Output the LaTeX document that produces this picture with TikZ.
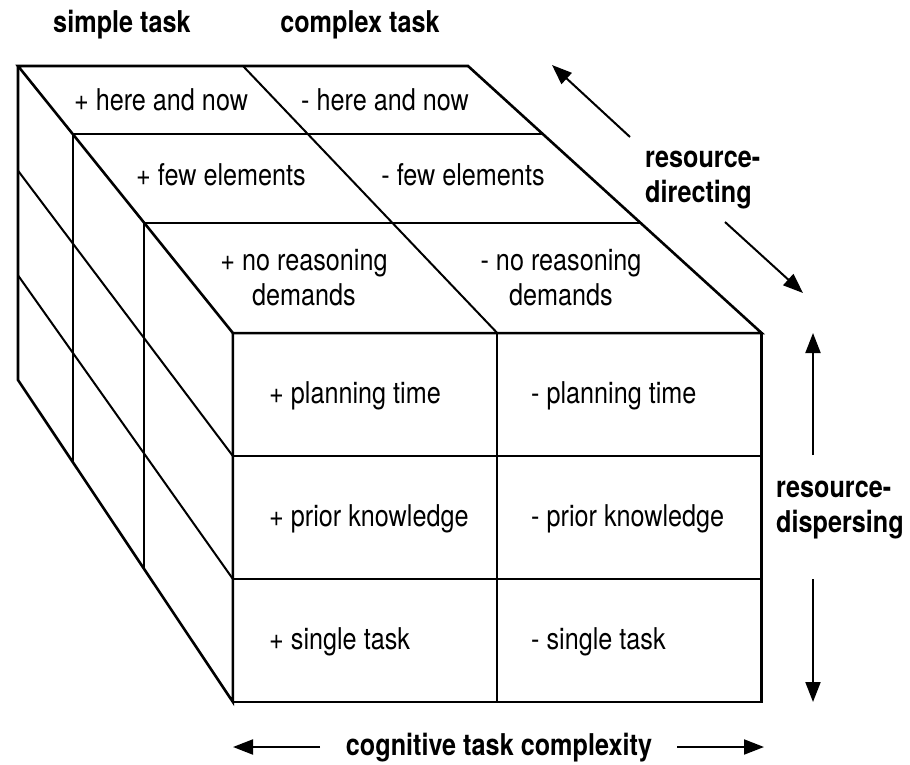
\documentclass[tikz,border=0pt]{standalone}
\usepackage{fontspec}
\setmainfont{TeX Gyre Heros}[FakeStretch=0.84]
\usetikzlibrary{calc,arrows.meta}
\begin{document}
\begin{tikzpicture}[x=1pt,y=-1pt,
  outer/.style={line width=2.6pt,line join=miter},
  inner/.style={line width=2pt},
  lbl/.style={font=\fontsize{30}{35}\selectfont,inner sep=0pt,anchor=base},
  lblw/.style={lbl,anchor=base west},
  head/.style={font=\fontsize{30}{35}\selectfont\bfseries,inner sep=0pt,anchor=base},
  headw/.style={head,anchor=base west,align=left},
  axis/.style={line width=2pt,-{Triangle[length=20pt,width=15pt]}}]
\useasboundingbox (0,0) rectangle (910,765);

% vanishing point of the block and corners of its rear face
\coordinate (V) at (-1210,-1460);
\coordinate (b-tl) at (18,66);
\coordinate (b-tm) at (243,66);
\coordinate (b-tr) at (468,66);
\coordinate (b-bl) at (18,380);
\coordinate (b-bm) at (243,380);
\coordinate (b-br) at (468,380);
\coordinate (b-l1) at (18,170.67);
\coordinate (b-l2) at (18,275.33);
\coordinate (b-r1) at (468,170.67);
\coordinate (b-r2) at (468,275.33);

% the three slices, each one a scaled copy of the rear face
\foreach \n/\s in {1/1.0446,2/1.1029,3/1.175}{
  \foreach \p in {tl,tm,tr,bl,bm,br,l1,l2,r1,r2}{
    \coordinate (l\n-\p) at ($(V)!\s!(b-\p)$);
  }
}

% inner lines
\draw[inner] (l1-tl) -- (l1-tr);
\draw[inner] (l2-tl) -- (l2-tr);
\draw[inner] (b-tm) -- (l3-tm);
\draw[inner] (l1-tl) -- (l1-bl);
\draw[inner] (l2-tl) -- (l2-bl);
\draw[inner] (b-l1) -- (l3-l1);
\draw[inner] (b-l2) -- (l3-l2);
\draw[inner] (l3-tm) -- (l3-bm);
\draw[inner] (l3-l1) -- (l3-r1);
\draw[inner] (l3-l2) -- (l3-r2);

% outline of the block
\draw[outer] (b-tl) -- (b-tr) -- (l3-tr) -- (l3-tl) -- cycle;
\draw[outer] (b-tl) -- (b-bl) -- (l3-bl) -- (l3-tl);
\draw[outer] (l3-tl) rectangle (l3-br);

% column heads
\node[head] (simple) at (122,33) {simple task};
\node[head] (complex) at (360,33) {complex task};

% top face
\node[lbl] (hnP) at (161,110.5) {+ here and now};
\node[lbl] (hnM) at (385,110.5) {- here and now};
\node[lbl] (feP) at (221,185.5) {+ few elements};
\node[lbl] (feM) at (463,185.5) {- few elements};
\node[lbl,align=center,anchor=center] (nrP) at (304,278) {+ no reasoning\\demands};
\node[lbl,align=center,anchor=center] (nrM) at (561,278) {- no reasoning\\demands};

% front face
\node[lblw] (ptP) at (269,403) {+ planning time};
\node[lblw] (ptM) at (531,403) {- planning time};
\node[lblw] (pkP) at (269,526) {+ prior knowledge};
\node[lblw] (pkM) at (531,526) {- prior knowledge};
\node[lblw] (stP) at (269,649) {+ single task};
\node[lblw] (stM) at (531,649) {- single task};

% axis labels
\node[headw,anchor=west] (dir) at (645,180) {resource-\\directing};
\node[headw,anchor=west] (disp) at (776,510) {resource-\\dispersing};
\node[head] (cog) at (499,755) {cognitive task complexity};

% axis arrows
\coordinate (dir-a0) at (630,137);
\coordinate (dir-a1) at (552,65);
\coordinate (dir-b0) at (725,222);
\coordinate (dir-b1) at (803,293);
\coordinate (disp-a0) at (813,455);
\coordinate (disp-a1) at (813,333);
\coordinate (disp-b0) at (813,579);
\coordinate (disp-b1) at (813,702);
\coordinate (cog-a0) at (320,747);
\coordinate (cog-a1) at (233,747);
\coordinate (cog-b0) at (677,747);
\coordinate (cog-b1) at (764,747);
\draw[axis] (dir-a0) -- (dir-a1);
\draw[axis] (dir-b0) -- (dir-b1);
\draw[axis] (disp-a0) -- (disp-a1);
\draw[axis] (disp-b0) -- (disp-b1);
\draw[axis] (cog-a0) -- (cog-a1);
\draw[axis] (cog-b0) -- (cog-b1);
\end{tikzpicture}
\end{document}
